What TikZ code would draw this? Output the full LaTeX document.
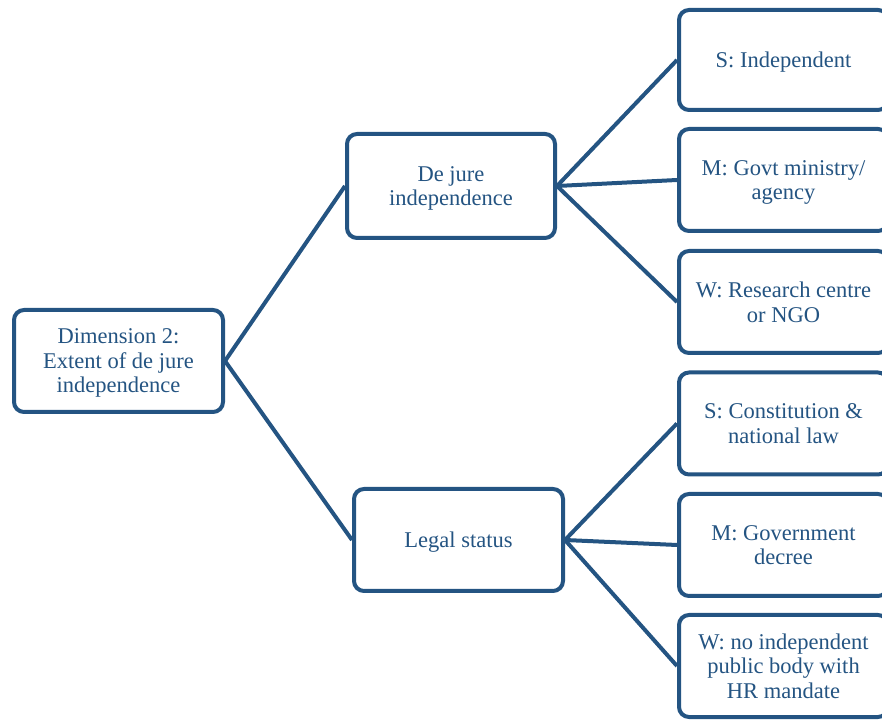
\documentclass[tikz,border=0pt]{standalone}
\usepackage{fontspec}
\setmainfont{Liberation Serif}
\definecolor{navy}{RGB}{36,84,130}
\begin{document}
\begin{tikzpicture}[x=1pt,y=1pt,
  box/.style={draw=navy,line width=4pt,rounded corners=10pt,fill=white,
    minimum width=209pt,minimum height=102pt,align=center,text=navy,
    font=\fontsize{22.5}{24.5}\selectfont,inner sep=0pt,text depth=0pt},
  link/.style={draw=navy,line width=4pt}]
\useasboundingbox (0,0) rectangle (882,719);
\clip (0,0) rectangle (882,719);
\node[box] (main) at (118.5,358) {Dimension 2:\\Extent of de jure\\independence};
\node[box,minimum width=208pt,minimum height=104pt] (dj) at (451,533) {De jure\\independence};
\node[box] (ls) at (458.5,179) {Legal status};
\node[box,minimum height=100pt] (r1) at (783.5,659) {S: Independent};
\node[box] (r2) at (783.5,539) {M: Govt ministry/\\agency};
\node[box] (r3) at (783.5,417) {W: Research centre\\or NGO};
\node[box] (r4) at (783.5,295.5) {S: Constitution \&\\national law};
\node[box] (r5) at (783.5,174) {M: Government\\decree};
\node[box] (r6) at (783.5,53) {W: no independent\\public body with\\HR mandate};
\draw[link] (main.east) -- (dj.west);
\draw[link] (main.east) -- (ls.west);
\draw[link] (dj.east) -- (r1.west);
\draw[link] (dj.east) -- (r2.west);
\draw[link] (dj.east) -- (r3.west);
\draw[link] (ls.east) -- (r4.west);
\draw[link] (ls.east) -- (r5.west);
\draw[link] (ls.east) -- (r6.west);
\end{tikzpicture}
\end{document}
